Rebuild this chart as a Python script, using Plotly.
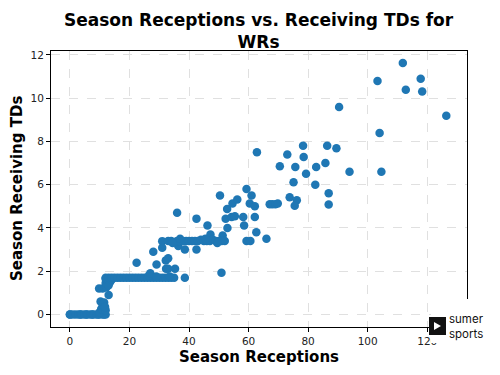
import plotly.graph_objects as go

# Season receptions (x) and season receiving TDs (y) for WRs
receptions = [
    0, 0, 1, 2, 3, 3.5, 4, 5, 5.5, 6, 7, 7.5, 8, 9, 9.5, 10, 11, 11.5, 12,
    10, 10.5, 11, 10.3, 11.5, 12, 11.8, 9.8, 11, 12.2, 13, 12, 12.5, 13.5, 12, 13, 14,
    12, 13, 14, 15, 16, 17, 18, 19, 20, 21, 22, 23, 24, 25, 26, 27, 28, 29, 30, 31,
    32, 33, 34, 35, 26.5, 27, 29, 33.5, 38.6,
    22.4, 28, 29.1, 31, 31, 32.2, 33, 32.3, 33, 35.3, 36.4, 38.6, 42.5, 50.9, 36,
    42.5, 46.2, 47.2, 51.3,
    33, 34, 35, 36, 37, 38, 39, 40, 41, 42, 43, 44, 45, 46, 47, 48, 49, 50, 51, 52,
    34.5, 37, 45.5, 49.5,
    52.3, 52.9, 54.3, 55.4, 58.2, 62.1, 58.5, 62.6, 66, 59.3, 60.6, 52.8, 54.6, 56.2,
    50.4, 61, 59.3, 60.4, 62.1, 62.8, 67.1, 68, 69, 69.8,
    73.8, 76.2, 75.5, 70.5, 73, 75.7, 75.1, 78.5, 78.3, 79.3, 82.7, 82.4, 85.8, 86.4,
    89.5, 86.9, 86.9, 93.9, 104.6, 104, 90.4, 126.4, 103.3, 112.8, 118.3, 117.8, 111.8,
]
tds = [
    0, 0, 0, 0, 0, 0, 0, 0, 0, 0, 0, 0, 0, 0, 0, 0, 0, 0, 0,
    0.1, 0.25, 0.4, 0.6, 0.55, 0.2, 0.35, 1.2, 1.2, 1.25, 0.9, 1.45, 1.55, 1.5, 1.65, 1.35, 1.6,
    1.7, 1.7, 1.7, 1.7, 1.7, 1.7, 1.7, 1.7, 1.7, 1.7, 1.7, 1.7, 1.7, 1.7, 1.7, 1.7, 1.7, 1.7, 1.7, 1.7,
    1.7, 1.7, 1.7, 1.7, 1.8, 1.9, 1.75, 1.75, 1.7,
    2.39, 2.9, 2.31, 3.39, 3.08, 2.5, 2.6, 2.11, 2.11, 2.11, 3.16, 3.0, 3.0, 1.93, 4.7,
    4.43, 4.11, 3.7, 3.65,
    3.4, 3.4, 3.35, 3.4, 3.4, 3.4, 3.4, 3.4, 3.4, 3.4, 3.4, 3.45, 3.4, 3.4, 3.4, 3.45, 3.4, 3.4, 3.4, 3.4,
    3.3, 3.5, 3.5, 3.3,
    4.42, 4.0, 4.51, 4.54, 4.51, 4.51, 4.11, 3.8, 3.5, 3.4, 3.4, 4.88, 5.13, 5.31,
    5.5, 5.5, 5.8, 5.13, 5.0, 7.5, 5.1, 5.1, 5.1, 5.13,
    5.42, 5.28, 5.03, 6.85, 7.39, 6.82, 6.11, 7.28, 7.8, 6.5, 6.82, 6.0, 7.0, 7.8,
    7.68, 5.6, 5.08, 6.6, 6.6, 8.39, 9.59, 9.19, 10.79, 10.39, 10.31, 10.9, 11.63,
]
x_ticks = [0, 20, 40, 60, 80, 100, 120]
y_ticks = [0, 2, 4, 6, 8, 10, 12]

W, H = 500, 375
ML, MR, MT, MB = 51, 33, 51, 48
PW, PH = W - ML - MR, H - MT - MB


def fx(px):
    return (px - ML) / PW


def fy(py):
    return (H - MB - py) / PH


FONT = "DejaVu Sans"

fig = go.Figure(go.Scatter(
    x=receptions, y=tds, mode="markers",
    marker=dict(color="#1f77b4", size=8.5, line=dict(width=0)),
    hoverinfo="skip",
))

axis_common = dict(
    showline=True, mirror=True, linecolor="#000000", linewidth=1,
    ticks="outside", ticklen=4, tickcolor="#000000", tickwidth=1,
    showgrid=True, gridcolor="#e0e0e0", griddash="dash", gridwidth=1,
    zeroline=False,
    tickfont=dict(family=FONT, size=10.5, color="#222222"),
)

fig.update_layout(
    width=W, height=H,
    margin=dict(l=ML, r=MR, t=MT, b=MB),
    paper_bgcolor="white", plot_bgcolor="white",
    showlegend=False,
    xaxis=dict(range=[-6.35, 133.35], tickvals=x_ticks, **axis_common),
    yaxis=dict(range=[-0.58, 12.18], tickvals=y_ticks, **axis_common),
    annotations=[
        dict(text="<b>Season Receptions vs. Receiving TDs for<br>WRs</b>", xref="paper", yref="paper",
             x=fx(258.7), y=fy(30.5), xanchor="center", yanchor="middle", showarrow=False,
             font=dict(family=FONT, size=17, color="#000000")),
        dict(text="<b>Season Receptions</b>", xref="paper", yref="paper",
             x=fx(258.7), y=fy(357), xanchor="center", yanchor="middle", showarrow=False,
             font=dict(family=FONT, size=15, color="#000000")),
        dict(text="<b>Season Receiving TDs</b>", xref="paper", yref="paper", textangle=-90,
             x=fx(17), y=fy(189), xanchor="center", yanchor="middle", showarrow=False,
             font=dict(family=FONT, size=15, color="#000000")),
        dict(text="sumer<br>sports", xref="paper", yref="paper", align="left",
             x=fx(447), y=fy(326), xanchor="left", yanchor="middle", showarrow=False,
             font=dict(family="Inter", size=11.5, color="#111111")),
    ],
    shapes=[
        dict(type="rect", xref="paper", yref="paper", layer="above",
             x0=fx(431), x1=fx(492), y0=fy(343), y1=fy(299),
             fillcolor="white", line=dict(width=0)),
        dict(type="rect", xref="paper", yref="paper", layer="above",
             x0=fx(429), x1=fx(446), y0=fy(335), y1=fy(317),
             fillcolor="#111111", line=dict(width=0)),
        dict(type="path", xref="paper", yref="paper", layer="above",
             path="M {} {} L {} {} L {} {} Z".format(fx(434), fy(322), fx(441), fy(326), fx(434), fy(330)),
             fillcolor="white", line=dict(width=0)),
    ],
)

fig.write_html("out.html")
